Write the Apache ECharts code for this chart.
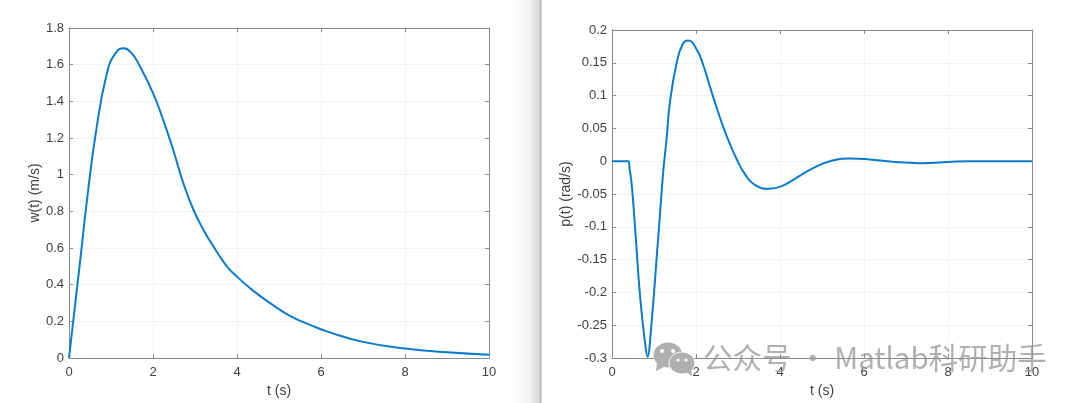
<!DOCTYPE html>
<html><head><meta charset="utf-8">
<style>html,body{margin:0;padding:0;background:#fff}#c{width:1080px;height:403px}</style>
<script src="https://cdn.jsdelivr.net/npm/echarts@6/dist/echarts.min.js"></script>
</head><body><div id="c"></div>
<script>
const leftT = [0,0.1,0.2,0.3,0.43,0.64,0.9,1.1,1.31,1.5,1.69,2,2.24,2.48,2.72,2.96,3.2,3.44,3.75,4.03,4.39,4.79,5.26,5.74,6.21,7,8,9,10];
const leftW = [0,0.2,0.4,0.6,0.865,1.23,1.55,1.66,1.69,1.66,1.59,1.445,1.3,1.136,0.955,0.81,0.70,0.608,0.503,0.437,0.366,0.299,0.23,0.181,0.14,0.088,0.052,0.031,0.018];
const rightT = [0,0.2,0.39,0.42,0.47,0.55,0.67,0.79,0.85,0.9,1.1,1.22,1.3,1.38,1.54,1.68,1.81,2.02,2.17,2.33,2.49,2.65,2.81,2.97,3.17,3.4,3.75,4.04,4.4,4.79,5.19,5.67,6.14,6.62,7.3,8.5,10];
const rightP = [0,0,0,-0.012,-0.036,-0.102,-0.207,-0.278,-0.298,-0.278,-0.117,-0.016,0.034,0.09,0.15,0.178,0.184,0.17,0.147,0.114,0.082,0.052,0.026,0.003,-0.02,-0.036,-0.042,-0.038,-0.025,-0.0105,0,0.004,0.0026,-0.0004,-0.003,0,0];
const leftLabel = 'w(t) (m/s)', rightLabel = 'p(t) (rad/s)', xLabel = 't (s)';
const watermark = '公众号 · Matlab科研助手';

const zip = (a,b) => a.map((v,i)=>[v,b[i]]);
const font = 'Arial, "Liberation Sans", sans-serif';
const textC = '#404040', boxC = '#8a8a8a', gridC = '#f3f3f3';
const tickCfg = {show:true,inside:true,length:4,lineStyle:{color:boxC,width:1}};
function xAxes(gi){return [
 {gridIndex:gi,type:'value',min:0,max:10,interval:2,position:'bottom',name:xLabel,nameLocation:'middle',nameGap:26,
  nameTextStyle:{color:textC,fontSize:14,fontFamily:font},
  axisLine:{show:true,onZero:false,lineStyle:{color:boxC}},axisTick:tickCfg,
  axisLabel:{color:textC,fontSize:13,fontFamily:font,margin:8},splitLine:{show:true,lineStyle:{color:gridC}}},
 {gridIndex:gi,type:'value',min:0,max:10,interval:2,position:'top',axisLine:{show:true,onZero:false,lineStyle:{color:boxC}},axisTick:tickCfg,axisLabel:{show:false},splitLine:{show:false}}
];}
function yAxes(gi,min,max,interval,name,gap,dec){const fmt=v=>String(+v.toFixed(dec));return [
 {gridIndex:gi,type:'value',min,max,interval,position:'left',name,nameLocation:'middle',nameGap:gap,
  nameTextStyle:{color:textC,fontSize:14,fontFamily:font},
  axisLine:{show:true,onZero:false,lineStyle:{color:boxC}},axisTick:tickCfg,
  axisLabel:{color:textC,fontSize:13,fontFamily:font,margin:5,formatter:fmt,showMinLabel:true,showMaxLabel:true},splitLine:{show:true,lineStyle:{color:gridC}}},
 {gridIndex:gi,type:'value',min,max,interval,position:'right',axisLine:{show:true,onZero:false,lineStyle:{color:boxC}},axisTick:tickCfg,axisLabel:{show:false},splitLine:{show:false}}
];}
const line=(xi,yi,d)=>({type:'line',xAxisIndex:xi,yAxisIndex:yi,data:d,showSymbol:false,smooth:0.5,clip:false,lineStyle:{color:'#0a7cc9',width:2},z:5});
const chart=echarts.init(document.getElementById('c'),null,{renderer:'canvas'});
const G='#b0b0b0';
chart.setOption({animation:false,backgroundColor:'#fff',
 grid:[{left:69,top:28,width:420,height:331},{left:612,top:30,width:420,height:331}],
 xAxis:[...xAxes(0),...xAxes(1)],
 yAxis:[...yAxes(0,0,1.8,0.2,leftLabel,26,1),...yAxes(1,-0.3,0.2,0.05,rightLabel,38,2)],
 series:[line(0,0,zip(leftT,leftW)),line(2,2,zip(rightT,rightP))],
 graphic:[
  {type:'rect',z:0,shape:{x:510,y:0,width:31,height:403},style:{fill:new echarts.graphic.LinearGradient(0,0,1,0,[{offset:0,color:'#ffffff'},{offset:0.6,color:'#f4f4f4'},{offset:1,color:'#d2d2d2'}])}},
  {type:'rect',z:0,shape:{x:540.5,y:0,width:1,height:403},style:{fill:'#a0a0a0'}},
  {type:'ellipse',z:20,shape:{cx:668,cy:355,rx:14.5,ry:12.5},style:{fill:G}},
  {type:'polygon',z:20,shape:{points:[[657,362],[656,371],[666,366]]},style:{fill:G}},
  {type:'ellipse',z:21,shape:{cx:682,cy:363,rx:13,ry:11},style:{fill:G,stroke:'#fff',lineWidth:1}},
  {type:'polygon',z:21,shape:{points:[[686,372],[692,376],[691,369]]},style:{fill:G}},
  {type:'circle',z:22,shape:{cx:662,cy:351,r:2},style:{fill:'#fff'}},
  {type:'circle',z:22,shape:{cx:673,cy:351,r:2},style:{fill:'#fff'}},
  {type:'circle',z:22,shape:{cx:678,cy:360,r:1.6},style:{fill:'#fff'}},
  {type:'circle',z:22,shape:{cx:686,cy:360,r:1.6},style:{fill:'#fff'}},
  {type:'text',z:20,left:703,top:343,style:{text:watermark,fontSize:29.5,fontFamily:'"Noto Sans CJK SC", sans-serif',fill:'rgba(150,150,150,0.75)'}}
 ]
});
</script></body></html>
